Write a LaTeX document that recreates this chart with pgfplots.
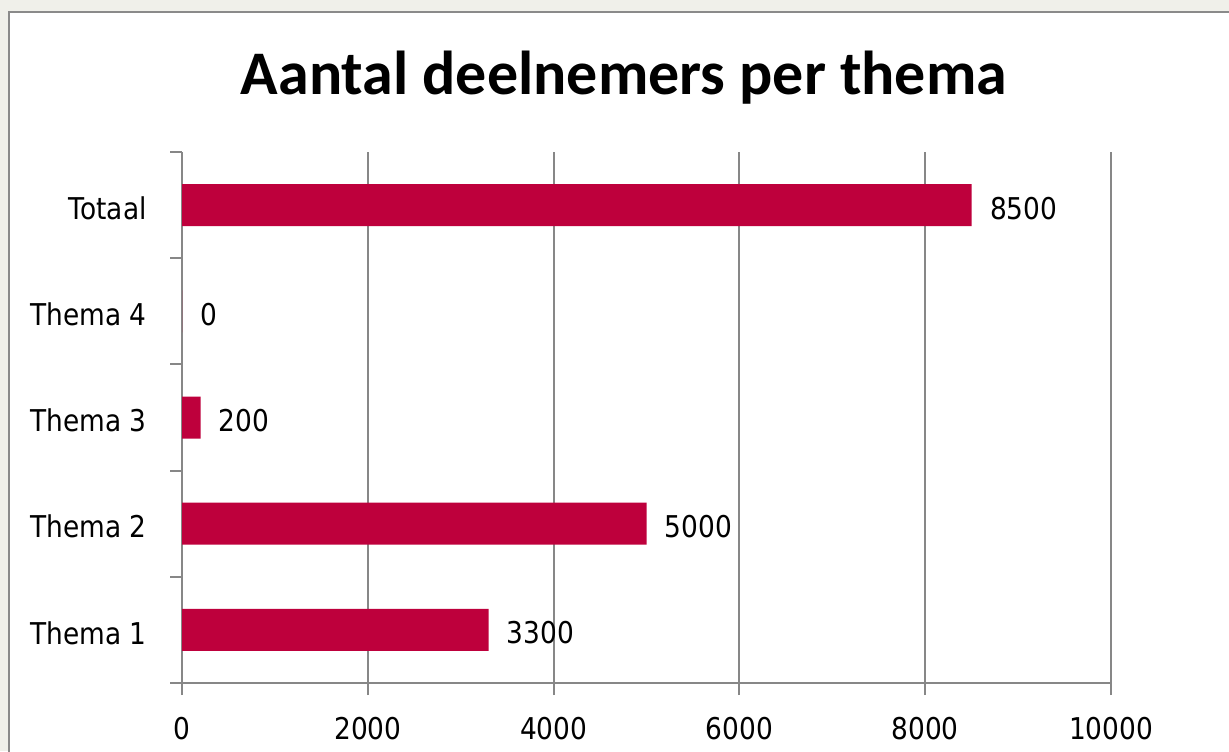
\documentclass[border=0pt]{standalone}
\usepackage{pgfplots}
\pgfplotsset{compat=1.18}
\usepackage{fontspec}
\setmainfont{DejaVu Sans}[FakeStretch=0.88]
\newfontfamily\titlefont{Carlito}
\definecolor{bgc}{HTML}{F0F0EA}
\definecolor{barc}{HTML}{BE003C}
\definecolor{gridc}{HTML}{878787}
\definecolor{framec}{HTML}{8A8A8A}
\begin{document}
\begin{tikzpicture}[x=0.5pt,y=0.5pt]
\path[use as bounding box] (0,0) rectangle (1229,751);
\begin{scope}
\clip (0,0) rectangle (1229,751);
\fill[bgc] (0,0) rectangle (1229,751);
\fill[white] (9,-20) rectangle (1260,739);
\draw[framec, line width=1pt] (9,-20) -- (9,739) -- (1260,739);
\end{scope}
\node[font=\titlefont\bfseries\fontsize{31}{36}\selectfont, anchor=center] at (624,673) {Aantal deelnemers per thema};
\begin{axis}[
  at={(91pt,34pt)}, anchor=south west,
  scale only axis, width=464.5pt, height=265.5pt,
  xmin=0, xmax=10000, ymin=-0.5, ymax=4.5,
  axis lines=left, axis line style={-, gridc, line width=1pt},
  xtick={0,2000,4000,6000,8000,10000},
  ytick={-0.5,0.5,1.5,2.5,3.5,4.5},
  yticklabels={},
  extra y ticks={0,1,2,3,4},
  extra y tick labels={Thema 1,Thema 2,Thema 3,Thema 4,Totaal},
  extra y tick style={major tick length=0pt},
  xmajorgrids, major grid style={gridc, line width=1pt},
  tick style={gridc, line width=1pt},
  xtick align=outside, ytick align=outside,
  major tick length=6pt,
  scaled x ticks=false,
  /pgf/number format/assume math mode=true,
  xticklabel={\pgfmathprintnumber[fixed,1000 sep={}]{\tick}},
  tick label style={font=\fontsize{15}{18}\selectfont, text=black},
  xticklabel style={inner sep=0pt, anchor=north, yshift=-11pt},
  yticklabel style={inner sep=0pt, anchor=east, xshift=-17.5pt, yshift=-1.5pt},
  xbar, bar width=21pt, bar shift=0pt,
  nodes near coords,
  nodes near coords style={font=\fontsize{15}{18}\selectfont, text=black, anchor=west, inner sep=0pt, xshift=9pt, yshift=-1.5pt},
  point meta=x,
  every node near coord/.append style={/pgf/number format/.cd, fixed, 1000 sep={}},
  clip=false,
]
\addplot[fill=barc, draw=none] coordinates {(3300,0) (5000,1) (200,2) (0,3) (8500,4)};
\end{axis}
\end{tikzpicture}
\end{document}
